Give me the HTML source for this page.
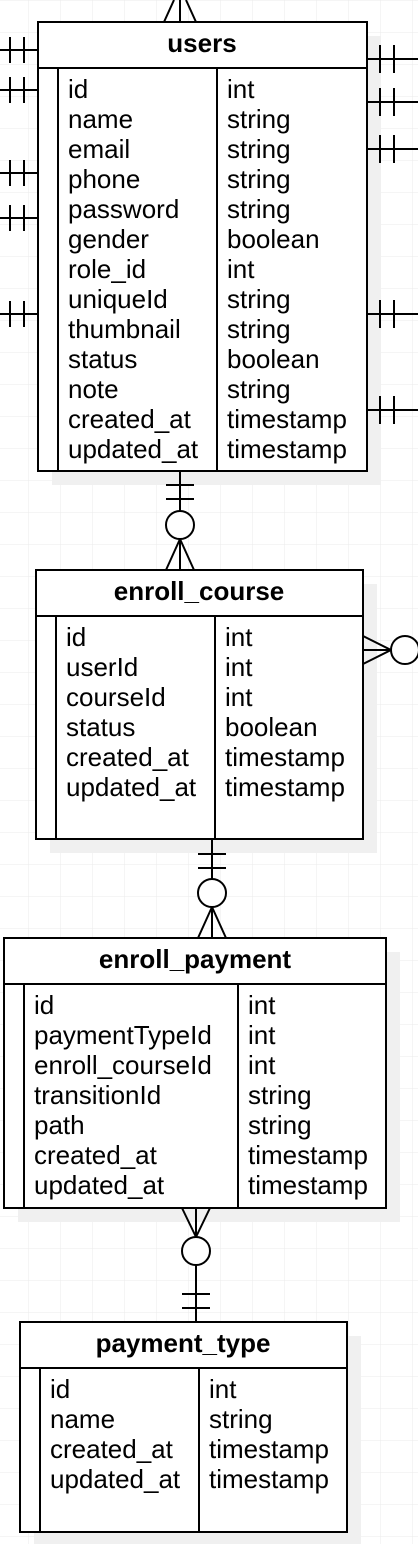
<!DOCTYPE html>
<html><head><meta charset="utf-8"><style>
html,body{margin:0;padding:0;background:#fff}
svg{display:block}
text{font-family:"Liberation Sans",sans-serif;font-size:26px;fill:#000}
.h{font-weight:bold;text-anchor:middle}
</style></head><body>
<svg width="418" height="1544" viewBox="0 0 418 1544" xmlns="http://www.w3.org/2000/svg">
<defs>
<pattern id="g" x="28" y="0" width="32" height="32" patternUnits="userSpaceOnUse">
<path d="M0 0H32M0 0V32" stroke="#ebebeb" stroke-width="1" fill="none"/>
</pattern>
</defs>
<rect width="418" height="1544" fill="url(#g)"/>
<g fill="#f0f0f0">
<rect x="52" y="36" width="329" height="449"/>
<rect x="50" y="584" width="327" height="269"/>
<rect x="18" y="952" width="382" height="270"/>
<rect x="34" y="1336" width="327" height="210"/>
</g>
<g stroke="#000" stroke-width="2" fill="none">
<rect x="38" y="22" width="329" height="449" fill="#fff"/>
<line x1="38" y1="68" x2="367" y2="68"/>
<line x1="58" y1="68" x2="58" y2="471"/>
<line x1="217" y1="68" x2="217" y2="471"/>
<rect x="36" y="570" width="327" height="269" fill="#fff"/>
<line x1="36" y1="616" x2="363" y2="616"/>
<line x1="56" y1="616" x2="56" y2="839"/>
<line x1="215" y1="616" x2="215" y2="839"/>
<rect x="4" y="938" width="382" height="270" fill="#fff"/>
<line x1="4" y1="984" x2="386" y2="984"/>
<line x1="24" y1="984" x2="24" y2="1208"/>
<line x1="238" y1="984" x2="238" y2="1208"/>
<rect x="20" y="1322" width="327" height="210" fill="#fff"/>
<line x1="20" y1="1368" x2="347" y2="1368"/>
<line x1="40" y1="1368" x2="40" y2="1532"/>
<line x1="199" y1="1368" x2="199" y2="1532"/>

<path d="M164 22 L174 0 M180 22 L180 0 M196 22 L186 0"/>
<path d="M0 50H38M10 37V63M24 37V63"/>
<path d="M0 90H38M10 77V103M24 77V103"/>
<path d="M0 173H38M10 160V186M24 160V186"/>
<path d="M0 218H38M10 205V231M24 205V231"/>
<path d="M0 314H38M10 301V327M24 301V327"/>
<path d="M367 59H418M380 45V73M394 45V73"/>
<path d="M367 102H418M380 88V116M394 88V116"/>
<path d="M367 149H418M380 135V163M394 135V163"/>
<path d="M367 314H418M380 300V328M394 300V328"/>
<path d="M367 410H418M380 396V424M394 396V424"/>
<path d="M180 471V511M166 485H194M166 499H194"/>
<circle cx="180" cy="525" r="14" fill="#fff"/>
<path d="M180 539V570M180 539L166 570M180 539L194 570"/>
<path d="M363 650H391M391 650L363 636M391 650L363 664"/>
<circle cx="405" cy="650" r="14" fill="#fff"/>
<path d="M212 839V879M198 854H226M198 868H226"/>
<circle cx="212" cy="893" r="14" fill="#fff"/>
<path d="M212 907V938M212 907L198 938M212 907L226 938"/>
<path d="M196 1208V1237M196 1237L182 1208M196 1237L210 1208"/>
<circle cx="196" cy="1251" r="14" fill="#fff"/>
<path d="M196 1265V1322M182 1294H210M182 1308H210"/>
</g>

<text class="h" x="202" y="52">users</text>
<text x="68" y="98">id</text><text x="227" y="98">int</text>
<text x="68" y="128">name</text><text x="227" y="128">string</text>
<text x="68" y="158">email</text><text x="227" y="158">string</text>
<text x="68" y="188">phone</text><text x="227" y="188">string</text>
<text x="68" y="218">password</text><text x="227" y="218">string</text>
<text x="68" y="248">gender</text><text x="227" y="248">boolean</text>
<text x="68" y="278">role_id</text><text x="227" y="278">int</text>
<text x="68" y="308">uniqueId</text><text x="227" y="308">string</text>
<text x="68" y="338">thumbnail</text><text x="227" y="338">string</text>
<text x="68" y="368">status</text><text x="227" y="368">boolean</text>
<text x="68" y="398">note</text><text x="227" y="398">string</text>
<text x="68" y="428">created_at</text><text x="227" y="428">timestamp</text>
<text x="68" y="458">updated_at</text><text x="227" y="458">timestamp</text>

<text class="h" x="199" y="600">enroll_course</text>
<text x="66" y="646">id</text><text x="225" y="646">int</text>
<text x="66" y="676">userId</text><text x="225" y="676">int</text>
<text x="66" y="706">courseId</text><text x="225" y="706">int</text>
<text x="66" y="736">status</text><text x="225" y="736">boolean</text>
<text x="66" y="766">created_at</text><text x="225" y="766">timestamp</text>
<text x="66" y="796">updated_at</text><text x="225" y="796">timestamp</text>

<text class="h" x="195" y="968">enroll_payment</text>
<text x="34" y="1014">id</text><text x="248" y="1014">int</text>
<text x="34" y="1044">paymentTypeId</text><text x="248" y="1044">int</text>
<text x="34" y="1074">enroll_courseId</text><text x="248" y="1074">int</text>
<text x="34" y="1104">transitionId</text><text x="248" y="1104">string</text>
<text x="34" y="1134">path</text><text x="248" y="1134">string</text>
<text x="34" y="1164">created_at</text><text x="248" y="1164">timestamp</text>
<text x="34" y="1194">updated_at</text><text x="248" y="1194">timestamp</text>

<text class="h" x="183" y="1352">payment_type</text>
<text x="50" y="1398">id</text><text x="209" y="1398">int</text>
<text x="50" y="1428">name</text><text x="209" y="1428">string</text>
<text x="50" y="1458">created_at</text><text x="209" y="1458">timestamp</text>
<text x="50" y="1488">updated_at</text><text x="209" y="1488">timestamp</text>
</svg>
</body></html>
